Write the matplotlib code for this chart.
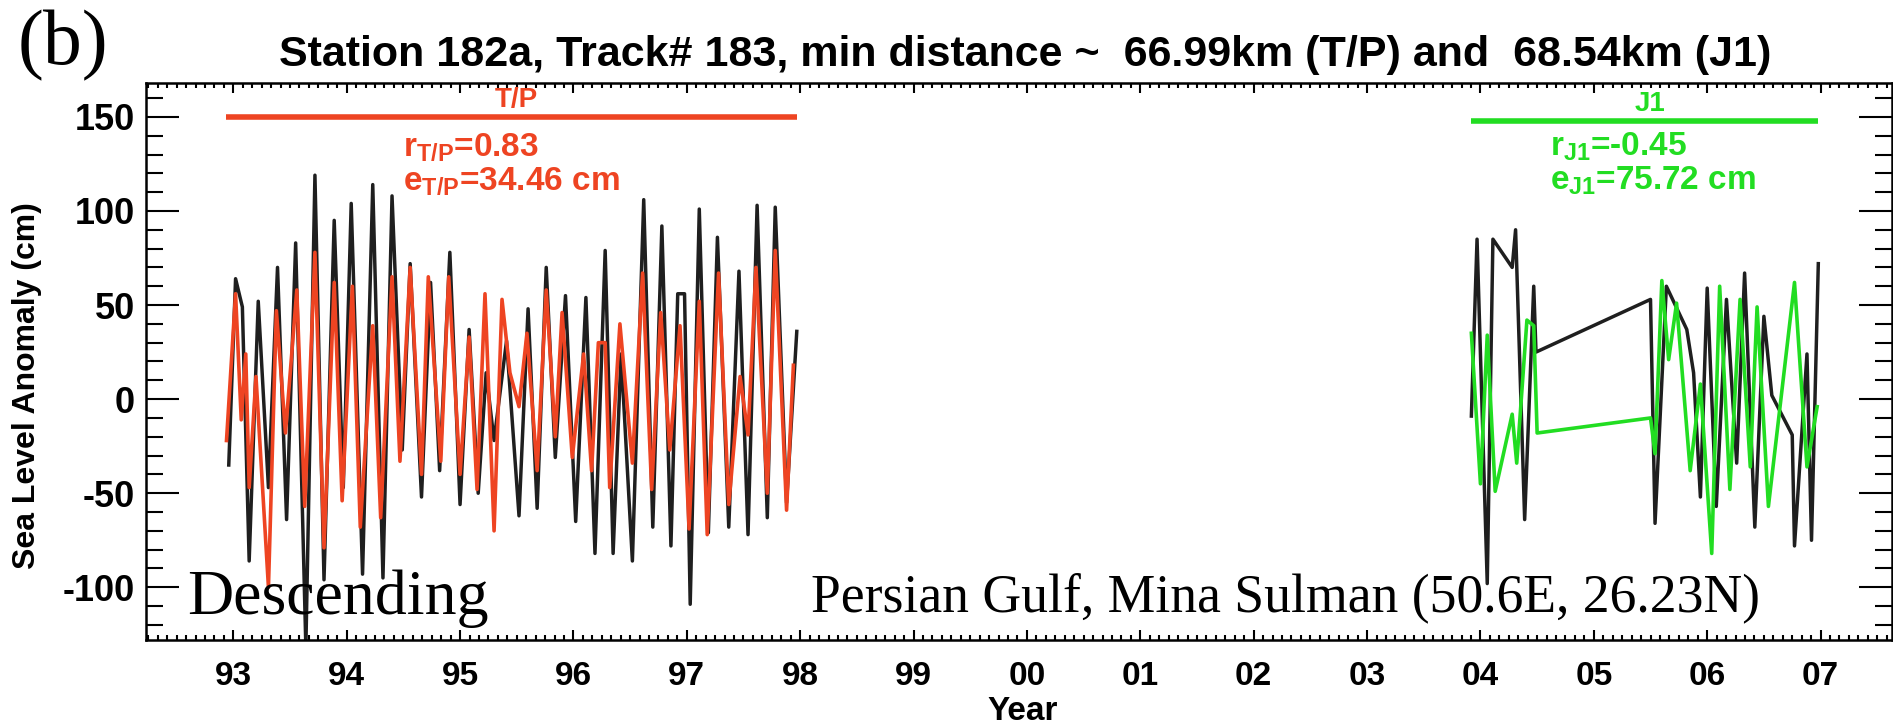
import numpy as np
import matplotlib
matplotlib.use('Agg')
import matplotlib.pyplot as plt
from matplotlib.ticker import MultipleLocator, FixedLocator, FixedFormatter

plt.rcParams['font.family'] = ['Liberation Sans', 'DejaVu Sans']
plt.rcParams['font.weight'] = 'bold'
plt.rcParams['axes.unicode_minus'] = False
plt.rcParams['mathtext.fontset'] = 'custom'
plt.rcParams['mathtext.rm'] = 'Liberation Sans'
plt.rcParams['mathtext.bf'] = 'Liberation Sans:bold'

# T/P period: tide gauge (black) and altimetry (red), decimal year since 1900
tp_gauge_year = [92.96, 93.02, 93.08, 93.14, 93.22, 93.31, 93.39, 93.47, 93.55, 93.64,
                 93.72, 93.80, 93.89, 93.97, 94.04, 94.14, 94.23, 94.32, 94.40, 94.49,
                 94.56, 94.66, 94.74, 94.82, 94.91, 95.00, 95.08, 95.16, 95.23, 95.30,
                 95.41, 95.52, 95.60, 95.68, 95.76, 95.84, 95.93, 96.02, 96.11, 96.19,
                 96.28, 96.35, 96.42, 96.52, 96.62, 96.70, 96.78, 96.86, 96.92, 96.98,
                 97.03, 97.11, 97.19, 97.27, 97.37, 97.46, 97.54, 97.62, 97.71, 97.78,
                 97.88, 97.97]
tp_gauge_sla = [-35, 64, 49, -86, 52, -47, 70, -64, 83, -132,
                119, -96, 95, -47, 104, -93, 114, -95, 108, -27,
                72, -52, 62, -38, 78, -56, 37, -50, 14, -22,
                31, -62, 48, -58, 70, -31, 55, -65, 54, -82,
                79, -82, 24, -86, 106, -68, 92, -78, 56, 56,
                -109, 101, -71, 86, -68, 68, -72, 103, -63, 102,
                -55, 36]

tp_alt_year = [92.94, 93.02, 93.07, 93.11, 93.14, 93.20, 93.31, 93.38, 93.46, 93.56,
               93.63, 93.72, 93.80, 93.89, 93.96, 94.05, 94.12, 94.23, 94.30, 94.40,
               94.47, 94.56, 94.66, 94.72, 94.83, 94.90, 95.00, 95.08, 95.15, 95.22,
               95.30, 95.37, 95.44, 95.52, 95.59, 95.68, 95.76, 95.84, 95.90, 95.99,
               96.09, 96.16, 96.22, 96.28, 96.32, 96.41, 96.52, 96.61, 96.69, 96.77,
               96.85, 96.94, 97.02, 97.11, 97.18, 97.28, 97.37, 97.47, 97.54, 97.61,
               97.71, 97.78, 97.88, 97.94]
tp_alt_sla = [-22, 56, -11, 24, -47, 12, -100, 47, -18, 58,
              -57, 78, -79, 62, -54, 60, -68, 39, -63, 65,
              -33, 70, -40, 65, -33, 65, -40, 33, -48, 56,
              -70, 53, 14, -4, 35, -38, 58, -20, 46, -31,
              24, -38, 30, 30, -47, 40, -34, 67, -48, 46,
              -27, 39, -69, 52, -72, 67, -56, 12, -19, 70,
              -50, 79, -59, 18]

# J1 period: tide gauge (black) and altimetry (green)
j1_gauge_year = [103.92, 103.97, 104.06, 104.11, 104.28, 104.31, 104.39, 104.47, 104.49, 105.50,
                 105.54, 105.64, 105.82, 105.88, 105.94, 106.00, 106.08, 106.17, 106.26, 106.33,
                 106.42, 106.50, 106.57, 106.75, 106.77, 106.88, 106.92, 106.98]
j1_gauge_sla = [-9, 85, -98, 85, 70, 90, -64, 60, 25, 53,
                -66, 60, 37, 14, -52, 59, -57, 53, -34, 67,
                -68, 44, 2, -19, -78, 24, -75, 72]

j1_alt_year = [103.92, 104.00, 104.06, 104.13, 104.28, 104.32, 104.41, 104.47, 104.50, 105.50,
               105.54, 105.60, 105.66, 105.73, 105.85, 105.94, 106.04, 106.11, 106.20, 106.29,
               106.38, 106.44, 106.54, 106.77, 106.88, 106.97]
j1_alt_sla = [35, -45, 34, -49, -8, -34, 42, 39, -18, -10,
              -29, 63, 21, 51, -38, 8, -82, 60, -48, 53,
              -36, 49, -57, 62, -36, -4]

year_ticks = [93, 94, 95, 96, 97, 98, 99, 100, 101, 102, 103, 104, 105, 106, 107]
year_labels = ['93', '94', '95', '96', '97', '98', '99', '00', '01', '02', '03', '04', '05', '06', '07']

RED = '#EE4422'
GREEN = '#22DD22'

fig = plt.figure(figsize=(18.93, 7.28), dpi=100)
ax = fig.add_axes([146 / 1893, 88 / 728, 1746 / 1893, 557 / 728])

ax.plot(tp_gauge_year, tp_gauge_sla, color='0.12', lw=2.5, zorder=2)
ax.plot(tp_alt_year, tp_alt_sla, color=RED, lw=2.6, zorder=3)
ax.plot(j1_gauge_year, j1_gauge_sla, color='0.12', lw=2.5, zorder=2)
ax.plot(j1_alt_year, j1_alt_sla, color=GREEN, lw=2.6, zorder=3)

# mission bars + stats
ax.plot([min(tp_alt_year), max(tp_gauge_year)], [150, 150], color=RED, lw=4, solid_capstyle='butt')
ax.text(95.50, 152, 'T/P', color=RED, ha='center', va='bottom', fontsize=20)
ax.text(94.50, 134, r'r$_{\mathbf{T/P}}$=0.83', color=RED, ha='left', va='center', fontsize=24)
ax.text(94.50, 116, r'e$_{\mathbf{T/P}}$=34.46 cm', color=RED, ha='left', va='center', fontsize=24)

ax.plot([min(j1_gauge_year), max(j1_gauge_year)], [148, 148], color=GREEN, lw=4, solid_capstyle='butt')
ax.text(105.5, 150, 'J1', color=GREEN, ha='center', va='bottom', fontsize=20)
ax.text(104.61, 134, r'r$_{\mathbf{J1}}$=-0.45', color=GREEN, ha='left', va='center', fontsize=24)
ax.text(104.61, 116, r'e$_{\mathbf{J1}}$=75.72 cm', color=GREEN, ha='left', va='center', fontsize=24)

ax.text(0.0235, 0.047, 'Descending', transform=ax.transAxes, family='Liberation Serif',
        fontweight='normal', fontsize=46, va='baseline', ha='left')
ax.text(0.381, 0.052, 'Persian Gulf, Mina Sulman (50.6E, 26.23N)', transform=ax.transAxes,
        family='Liberation Serif', fontweight='normal', fontsize=38.6, va='baseline', ha='left')

ax.set_xlim(92.23, 107.63)
ax.set_ylim(-128, 168)
ax.xaxis.set_major_locator(FixedLocator(year_ticks))
ax.xaxis.set_major_formatter(FixedFormatter(year_labels))
ax.xaxis.set_minor_locator(MultipleLocator(1 / 12))
ax.yaxis.set_major_locator(MultipleLocator(50))
ax.yaxis.set_minor_locator(MultipleLocator(10))
ax.tick_params(which='both', direction='in', top=True, right=True, width=1.5)
ax.tick_params(axis='y', which='major', length=24, pad=8, labelsize=26)
ax.tick_params(axis='y', which='minor', length=12)
ax.tick_params(axis='x', which='major', length=7, pad=15, labelsize=24)
ax.tick_params(axis='x', which='minor', length=3.5)
for s in ax.spines.values():
    s.set_linewidth(1.8)

fig.text(0.5415, 0.909, 'Station 182a, Track# 183, min distance ~  66.99km (T/P) and  68.54km (J1)',
         ha='center', va='baseline', fontsize=31)
fig.text(0.0143, 0.47, 'Sea Level Anomaly (cm)', rotation=90, ha='center', va='center', fontsize=23)
fig.text(0.540, 0.022, 'Year', ha='center', va='center', fontsize=24)
fig.text(0.033, 0.937, '(b)', family='Liberation Serif', fontweight='normal', fontsize=56,
         ha='center', va='center')

fig.savefig('out.png', dpi=100)
